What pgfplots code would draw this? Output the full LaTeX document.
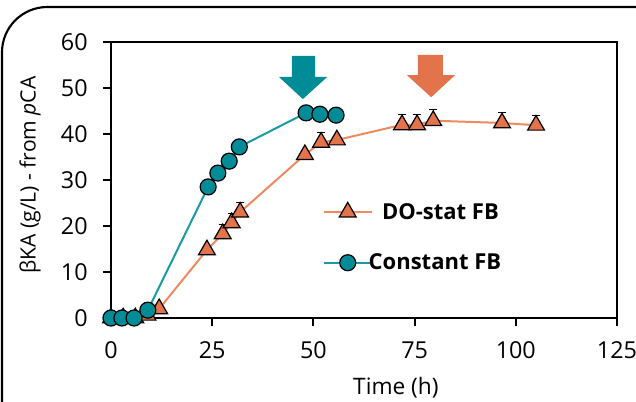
\documentclass[border=0pt]{standalone}
\usepackage{fontspec}
\setmainfont{Open Sans}
\usepackage{pgfplots}
\pgfplotsset{compat=1.18}
\definecolor{tealc}{HTML}{008C96}
\definecolor{tealline}{HTML}{1A9AA2}
\definecolor{orangec}{HTML}{E2734A}
\definecolor{orangeline}{HTML}{EC8A62}
\pgfplotstableread{
t v e
0 0 0
3 0 0
6 0 0
9 0.6 0
11.9 2.0 0
23.7 14.8 0
27.6 18.3 2.1
29.8 20.7 2.1
31.9 23.0 2.1
47.9 35.5 0
51.9 38.2 2.1
55.8 38.7 0
71.9 42.0 2.2
75.6 42.0 2.2
79.6 42.9 2.4
96.6 42.4 2.2
105 41.9 2.1
}\dostat
\begin{document}
\begin{tikzpicture}
\useasboundingbox (-83.25pt,-62.25pt) rectangle (393.75pt,238.5pt);
\draw[line width=1.6pt, rounded corners=34pt] (-81.75pt,-75pt) -- (-81.75pt,233.25pt) -- (410pt,233.25pt);
\begin{axis}[
  scale only axis, width=379.5pt, height=207pt,
  xmin=0, xmax=125, ymin=0, ymax=60,
  xtick={0,25,...,125}, ytick={0,10,...,60},
  tick align=outside, tick pos=left, major tick length=6pt,
  axis line style={line width=1.4pt},
  every tick/.style={black, line width=1.4pt},
  tick label style={font=\fontsize{17.5}{21}\selectfont},
  xticklabel style={yshift=-8pt},
  yticklabel style={xshift=-8pt},
  label style={font=\fontsize{17}{20}\selectfont},
  /pgf/number format/assume math mode=true,
  xlabel={Time (h)},
  ylabel={βKA (g/L) - from \textit{p}CA},
  xlabel style={at={(axis description cs:0.563,-0.254)}, anchor=center},
  ylabel style={at={(axis description cs:-0.160,0.518)}, anchor=center,
    font=\fontsize{15.8}{19}\selectfont},
  clip=false,
  legend style={at={(0.41,0.292)}, anchor=west, draw=none, fill=none,
    font=\bfseries\fontsize{16.5}{20}\selectfont, row sep=20.5pt},
  legend cell align=left,
  legend image code/.code={
    \draw[mark repeat=2, mark phase=2, #1] plot coordinates {(0pt,0pt) (18pt,0pt) (36pt,0pt)};
  },
]
% error caps first, so that the markers sit on top of them
\addplot[draw=none, forget plot,
  error bars/.cd, y dir=plus, y explicit,
  error bar style={black, line width=0.8pt},
  error mark options={rotate=90, mark size=2.8pt, black, line width=0.8pt}]
  table[x=t, y=v, y error=e] {\dostat};
\addplot[orangeline, line width=1.5pt, mark=triangle*, mark size=7.3pt,
  mark options={fill=orangec, draw=black, line width=0.9pt}]
  table[x=t, y=v] {\dostat};
\addlegendentry{\hspace{5pt}DO-stat FB}
\addplot[tealline, line width=1.5pt, mark=*, mark size=6pt,
  mark options={fill=tealc, draw=black, line width=0.9pt}]
  coordinates {(0,0) (2.7,0) (5.7,0) (9.1,1.7) (24.0,28.5) (26.4,31.5) (29.2,34.1) (31.7,37.2) (48.2,44.6) (51.6,44.3) (55.6,44.1)};
\addlegendentry{\hspace{-5pt}Constant FB}
\fill[tealc] (axis cs:44.7,57.0) -- (axis cs:50.4,57.0) -- (axis cs:50.4,52.4) -- (axis cs:53.4,52.4) -- (axis cs:47.4,47.6) -- (axis cs:41.5,52.4) -- (axis cs:44.7,52.4) -- cycle;
\fill[orangec] (axis cs:75.8,57.2) -- (axis cs:82.0,57.2) -- (axis cs:82.0,52.8) -- (axis cs:85.0,52.8) -- (axis cs:79.1,48.0) -- (axis cs:73.1,52.8) -- (axis cs:75.8,52.8) -- cycle;
\end{axis}
\end{tikzpicture}
\end{document}
